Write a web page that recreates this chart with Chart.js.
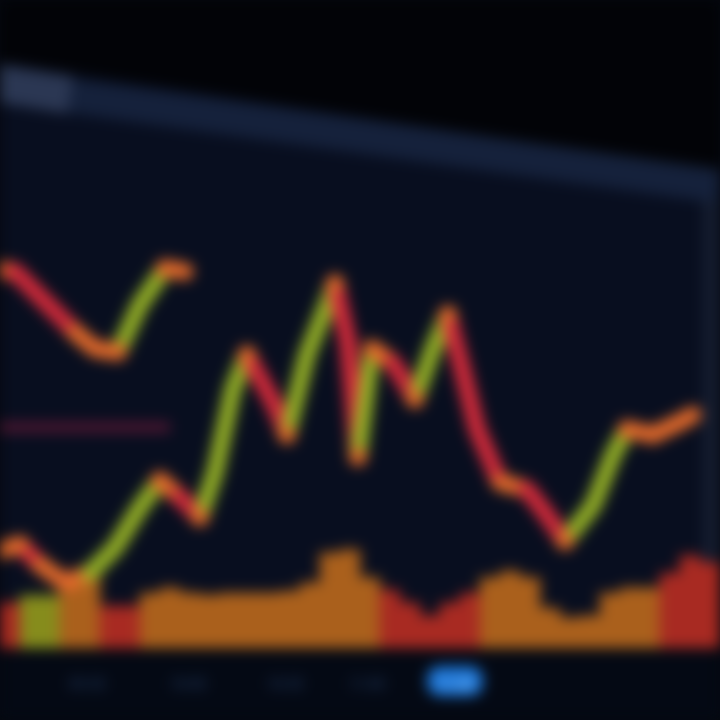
<!DOCTYPE html>
<html>
<head>
<meta charset="utf-8">
<script src="https://cdn.jsdelivr.net/npm/chart.js@4.4.1/dist/chart.umd.min.js"></script>
<style>
  html, body { margin: 0; padding: 0; background: #05080f; overflow: hidden; }
  #wrap { width: 720px; height: 720px; position: relative; }
  canvas { filter: blur(7px); }
</style>
</head>
<body>
<div id="wrap"><canvas id="c" width="720" height="720"></canvas></div>
<script>
// ---- data ----
const mainTime  = [0, 2, 4, 6.5, 9, 11.5, 14, 16, 18, 20, 21.5, 23.3, 24.7, 27.3, 28.7, 30.7, 32.7, 33.5, 34.8, 35.8, 37.2, 39.3, 41.5, 43.3, 44.8, 46.3, 47.7, 50, 52.7, 54.7, 56.5, 59.3, 61.3, 62.7, 65.3, 68, 69.3];
const mainPrice = [15.0, 16.0, 12.9, 10.1, 11.6, 15.5, 21.7, 25.9, 23.3, 20.2, 27.1, 40.0, 45.3, 38.0, 32.9, 45.3, 53.0, 56.3, 47.3, 29.5, 46.2, 44.0, 38.4, 46.2, 51.5, 42.6, 33.8, 25.6, 24.5, 20.5, 16.5, 22.0, 29.8, 33.8, 32.9, 34.9, 36.0];

const prevTime  = [0, 1.5, 3.5, 5.5, 7.5, 9.5, 11.8, 14, 16.5, 18.5];
const prevPrice = [58.4, 58.1, 55.0, 51.9, 48.8, 46.2, 45.7, 53.0, 58.6, 58.1];

const refTime  = [0, 17];
const refLevel = [34.1, 34.1];

const volTime = [1, 3, 5, 7, 9, 11, 13, 15, 17, 19, 21, 23, 25, 27, 29, 31, 33, 35, 37, 39, 41, 43, 45, 47, 49, 51, 53, 55, 57, 59, 61, 63, 65, 67, 69, 71];
const volume  = [7.0, 8.1, 8.1, 11.5, 11.0, 6.5, 6.5, 8.5, 9.3, 8.5, 8.2, 8.5, 8.5, 8.5, 8.8, 10.1, 14.7, 15.2, 10.9, 9.0, 7.0, 5.0, 7.0, 8.5, 10.9, 11.9, 10.9, 6.2, 4.7, 5.0, 8.5, 9.3, 9.3, 11.6, 14.3, 13.2];
const volDir  = ['down','up','up','flat','flat','down','down','flat','flat','flat','flat','flat','flat','flat','flat','flat','flat','flat','flat','down','down','down','down','down','flat','flat','flat','flat','flat','flat','flat','flat','flat','down','down','down'];

const tickTimes  = [8.7, 18.8, 28.5, 36.7, 45.5];
const tickLabels = ['09:30', '10:00', '10:30', '11:00', '11:30'];
const activeTick = 4;

// ---- styles ----
const UP = '#94b025', DOWN = '#d42a3a', FLAT = '#e2692a';
const VOLC = { up: '#868c1c', down: '#a82a22', flat: '#aa601c' };

function segColor(ctx) {
  const dx = ctx.p1.parsed.x - ctx.p0.parsed.x;
  const s = (ctx.p1.parsed.y - ctx.p0.parsed.y) / (dx || 1);
  if (s > 1.3) return UP;
  if (s < -1.3) return DOWN;
  return FLAT;
}
function extremaRadius(ctx) {
  const d = ctx.dataset.data, i = ctx.dataIndex;
  if (i === 0 || i === d.length - 1) return 0;
  const a = d[i-1].y, b = d[i].y, c = d[i+1].y;
  return ((b > a && b > c) || (b < a && b < c)) ? 9 : 0;
}

const bgPlugin = {
  id: 'bg',
  beforeDraw(chart) {
    const c = chart.ctx, W = chart.width, H = chart.height;
    c.save();
    c.fillStyle = '#080e1f';
    c.fillRect(0, 0, W, H);
    // dark upper area
    c.fillStyle = '#020307';
    c.beginPath();
    c.moveTo(0, 0); c.lineTo(W, 0); c.lineTo(W, 172); c.lineTo(0, 62); c.closePath();
    c.fill();
    // diagonal light band
    c.strokeStyle = 'rgba(30,46,78,0.6)';
    c.lineWidth = 34;
    c.beginPath(); c.moveTo(0, 86); c.lineTo(W, 186); c.stroke();
    c.strokeStyle = 'rgba(52,66,94,0.7)';
    c.lineWidth = 38;
    c.beginPath(); c.moveTo(-10, 82); c.lineTo(70, 95); c.stroke();
    // right screen edge
    c.fillStyle = 'rgba(30,40,60,0.6)';
    c.fillRect(703, 200, 17, 445);
    // bottom strip
    c.fillStyle = '#040914';
    c.fillRect(0, 648, W, H - 648);
    // highlighted tick pill
    const xs = chart.scales.x;
    const px = xs.getPixelForValue(tickTimes[activeTick]);
    c.fillStyle = '#1a72d2';
    c.beginPath();
    c.roundRect(px - 28, 666, 56, 30, 13);
    c.fill();
    c.restore();
  }
};

new Chart(document.getElementById('c'), {
  data: {
    datasets: [
      {
        type: 'line', label: 'Price', order: 1,
        data: mainTime.map((t, i) => ({ x: t, y: mainPrice[i] })),
        borderWidth: 17, borderCapStyle: 'round', borderJoinStyle: 'round',
        segment: { borderColor: segColor },
        borderColor: FLAT,
        pointRadius: extremaRadius, pointBackgroundColor: FLAT, pointBorderWidth: 0,
        tension: 0
      },
      {
        type: 'line', label: 'Previous', order: 2,
        data: prevTime.map((t, i) => ({ x: t, y: prevPrice[i] })),
        borderWidth: 17, borderCapStyle: 'round', borderJoinStyle: 'round',
        segment: { borderColor: segColor },
        borderColor: FLAT,
        pointRadius: extremaRadius, pointBackgroundColor: FLAT, pointBorderWidth: 0,
        tension: 0
      },
      {
        type: 'line', label: 'Reference', order: 3,
        data: refTime.map((t, i) => ({ x: t, y: refLevel[i] })),
        borderColor: 'rgba(90,24,52,0.9)', borderWidth: 10, pointRadius: 0
      },
      {
        type: 'bar', label: 'Volume', order: 4,
        data: volTime.map((t, i) => ({ x: t, y: volume[i] })),
        backgroundColor: volDir.map(d => VOLC[d]),
        borderWidth: 0, barPercentage: 1, categoryPercentage: 1
      }
    ]
  },
  options: {
    responsive: false, animation: false,
    layout: { padding: { left: 0, right: 0, top: 0, bottom: 5 } },
    plugins: { legend: { display: false }, tooltip: { enabled: false } },
    scales: {
      x: {
        type: 'linear', min: 0, max: 72, offset: false,
        grid: { display: false }, border: { display: false },
        afterBuildTicks: s => { s.ticks = tickTimes.map(v => ({ value: v })); },
        ticks: {
          autoSkip: false, maxRotation: 0, padding: 21,
          font: { family: 'Roboto', size: 14, weight: 'bold' },
          color: ctx => ctx.index === activeTick ? '#7fc0ff' : '#1d3152',
          callback: (v, i) => tickLabels[i]
        }
      },
      y: { display: false, min: 0, max: 100 }
    }
  },
  plugins: [bgPlugin]
});
</script>
</body>
</html>
